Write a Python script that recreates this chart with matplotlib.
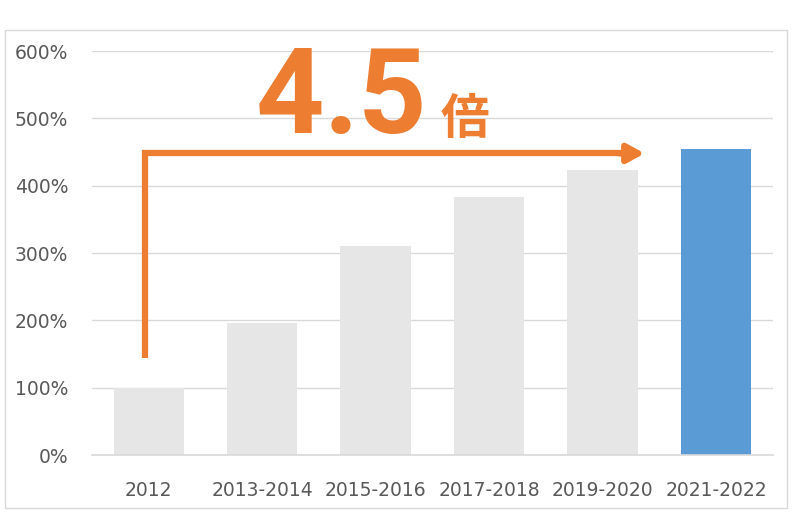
import matplotlib.pyplot as plt
from matplotlib.patches import Rectangle

# 数据
categories = ['2012', '2013-2014', '2015-2016', '2017-2018', '2019-2020', '2021-2022']
values = [1.00, 1.96, 3.10, 3.84, 4.24, 4.54]
yticks = [0, 1, 2, 3, 4, 5, 6]
ytick_labels = ['0%', '100%', '200%', '300%', '400%', '500%', '600%']

GRAY = '#E7E6E6'
BLUE = '#5B9BD5'
ORANGE = '#ED7D31'
TEXT = '#595959'
GRID = '#D9D9D9'

fig = plt.figure(figsize=(8, 5.27), dpi=100)
ax = fig.add_axes([0.115, 0.1366, 0.851, 0.7664])

colors = [GRAY] * (len(values) - 1) + [BLUE]
x = list(range(len(categories)))
ax.bar(x, values, width=0.62, color=colors, zorder=2)

ax.set_xlim(-0.5, len(categories) - 0.5)
ax.set_ylim(0, 6)
ax.set_yticks(yticks)
ax.set_yticklabels(ytick_labels)
ax.set_xticks(x)
ax.set_xticklabels(categories)
ax.grid(axis='y', color=GRID, lw=1, zorder=0)
ax.axhline(0, color=GRID, lw=1.2, zorder=3, clip_on=False)
for s in ax.spines.values():
    s.set_visible(False)
ax.tick_params(length=0, colors=TEXT, labelsize=13.5)
ax.tick_params(axis='y', pad=17)
ax.tick_params(axis='x', pad=19)

# 箭头
x0, y0, y1 = -0.03, 1.44, 4.48
x1, x2 = 4.2, 4.37
ax.plot([x0, x0, x1], [y0, y1, y1], color=ORANGE, lw=4.5, solid_capstyle='butt',
        solid_joinstyle='miter', zorder=3)
ax.annotate('', xy=(x2, y1), xytext=(x1 - 0.05, y1),
            arrowprops=dict(arrowstyle='-|>,head_length=1.0,head_width=0.55',
                            color=ORANGE, lw=4.5, shrinkA=0, shrinkB=0), zorder=3)

# 4.5倍 (逐字放置)
for ch, cx in zip(['4', '.', '5'], [1.2445, 1.6938, 2.1432]):
    ax.text(cx, 4.79, ch, color=ORANGE, fontsize=86, fontweight='bold',
            family=['Roboto', 'DejaVu Sans'], ha='center', va='baseline')
ax.text(2.79, 4.77, '倍', color=ORANGE, fontsize=35, fontweight='bold',
        family=['Noto Sans CJK JP', 'DejaVu Sans'], ha='center', va='baseline')

# 外框
fig.patches.append(Rectangle((5 / 800, 1 - 508 / 527), 782 / 800, 478 / 527,
                             transform=fig.transFigure, fill=False,
                             edgecolor=GRID, lw=1))

fig.savefig('out.png', dpi=100)
